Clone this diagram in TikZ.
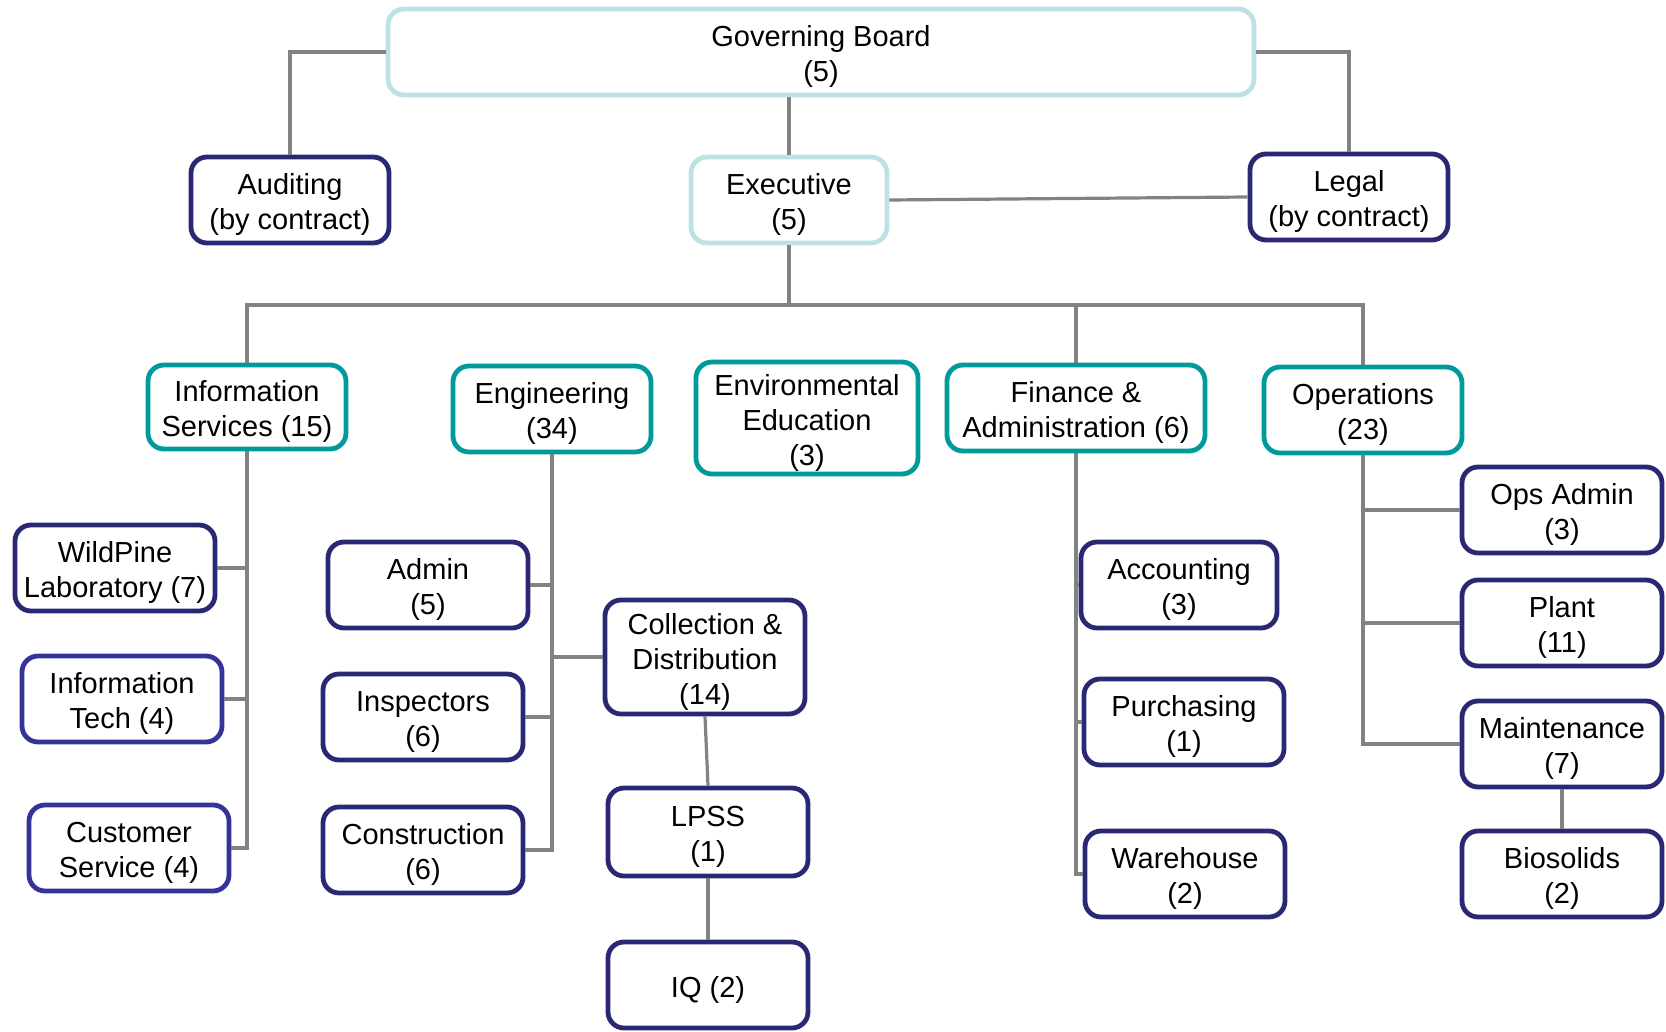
\documentclass[tikz,border=0pt]{standalone}
\usepackage{fontspec}
\setmainfont{Liberation Sans}
\definecolor{lightcy}{HTML}{BCE2E6}
\definecolor{tealc}{HTML}{009A9A}
\definecolor{navyc}{HTML}{2A2872}
\definecolor{bluec}{HTML}{33339A}
\definecolor{connc}{HTML}{828282}
\newcommand{\bxtext}[1]{\raisebox{-2.6pt}[\height][\depth]{\begin{tabular}{@{}c@{}}#1\end{tabular}}}
\tikzset{
  box/.style={draw, rounded corners=8pt, line width=2.4pt, fill=white,
    font=\fontsize{14.5pt}{17.5pt}\selectfont, inner sep=0pt, text=black},
  topbox/.style={box, draw=lightcy},
  divbox/.style={box, draw=tealc},
  unitbox/.style={box, draw=navyc},
  unitbox2/.style={box, draw=bluec},
  conn/.style={draw=connc, line width=1.6pt},
}
\begin{document}
\begin{tikzpicture}[x=0.5pt, y=-0.5pt]
\useasboundingbox (0,0) rectangle (1666,1032);
\coordinate (busy) at (0,305);
% nodes
\node[topbox, minimum width=433pt, minimum height=43pt] (gb) at (821,52) {\bxtext{Governing Board\\(5)}};
\node[unitbox, minimum width=99pt, minimum height=43pt] (aud) at (290,200) {\bxtext{Auditing\\(by contract)}};
\node[topbox, minimum width=98pt, minimum height=43pt] (exec) at (789,200) {\bxtext{Executive\\(5)}};
\node[unitbox, minimum width=99pt, minimum height=43pt] (legal) at (1349,197) {\bxtext{Legal\\(by contract)}};

\node[divbox, minimum width=99pt, minimum height=42pt] (is) at (247,407) {\bxtext{Information\\Services (15)}};
\node[divbox, minimum width=99pt, minimum height=43pt] (eng) at (552,409) {\bxtext{Engineering\\(34)}};
\node[divbox, minimum width=111pt, minimum height=56pt] (env) at (807,418) {\bxtext{Environmental\\Education\\(3)}};
\node[divbox, minimum width=129pt, minimum height=43pt] (fa) at (1076,408) {\bxtext{Finance \&\\Administration (6)}};
\node[divbox, minimum width=99pt, minimum height=43pt] (ops) at (1363,410) {\bxtext{Operations\\(23)}};

\node[unitbox, minimum width=100pt, minimum height=43pt] (wild) at (115,568) {\bxtext{WildPine\\Laboratory (7)}};
\node[unitbox2, minimum width=100pt, minimum height=43pt] (it) at (122,699) {\bxtext{Information\\Tech (4)}};
\node[unitbox2, minimum width=100pt, minimum height=43pt] (cs) at (129,848) {\bxtext{Customer\\Service (4)}};

\node[unitbox, minimum width=100pt, minimum height=43pt] (adm) at (428,585) {\bxtext{Admin\\(5)}};
\node[unitbox, minimum width=100pt, minimum height=43pt] (insp) at (423,717) {\bxtext{Inspectors\\(6)}};
\node[unitbox, minimum width=100pt, minimum height=43pt] (cons) at (423,850) {\bxtext{Construction\\(6)}};
\node[unitbox, minimum width=100pt, minimum height=57pt] (cd) at (705,657) {\bxtext{Collection \&\\Distribution\\(14)}};
\node[unitbox, minimum width=100pt, minimum height=44pt] (lpss) at (708,832) {\bxtext{LPSS\\(1)}};
\node[unitbox, minimum width=100pt, minimum height=43pt] (iq) at (708,985) {\bxtext{IQ (2)}};

\node[unitbox, minimum width=98pt, minimum height=43pt] (acc) at (1179,585) {\bxtext{Accounting\\(3)}};
\node[unitbox, minimum width=100pt, minimum height=43pt] (purch) at (1184,722) {\bxtext{Purchasing\\(1)}};
\node[unitbox, minimum width=100pt, minimum height=43pt] (ware) at (1185,874) {\bxtext{Warehouse\\(2)}};

\node[unitbox, minimum width=100pt, minimum height=43pt] (opsadm) at (1562,510) {\bxtext{Ops Admin\\(3)}};
\node[unitbox, minimum width=100pt, minimum height=43pt] (plant) at (1562,623) {\bxtext{Plant\\(11)}};
\node[unitbox, minimum width=100pt, minimum height=43pt] (maint) at (1562,744) {\bxtext{Maintenance\\(7)}};
\node[unitbox, minimum width=100pt, minimum height=43pt] (bio) at (1562,874) {\bxtext{Biosolids\\(2)}};

% connectors
\draw[conn] (gb.west) -| (aud.north);
\draw[conn] (gb.east) -| (legal.north);
\draw[conn] (exec.north) -- (exec.north |- gb.south);
\draw[conn] (exec.east) -- (legal.west);
\draw[conn] (exec.south) -- (exec.south |- busy);
\draw[conn] (is.north) -- (is.north |- busy) -| (ops.north);
\draw[conn] (fa.north) -- (fa.north |- busy);

\draw[conn] (is.south) |- (wild.east);
\draw[conn] (is.south) |- (it.east);
\draw[conn] (is.south) |- (cs.east);

\draw[conn] (eng.south) |- (adm.east);
\draw[conn] (eng.south) |- (insp.east);
\draw[conn] (eng.south) |- (cons.east);
\draw[conn] (eng.south) |- (cd.west);
\draw[conn] (cd.south) -- (lpss.north);
\draw[conn] (lpss.south) -- (iq.north);

\draw[conn] (fa.south) |- (acc.west);
\draw[conn] (fa.south) |- (purch.west);
\draw[conn] (fa.south) |- (ware.west);

\draw[conn] (ops.south) |- (opsadm.west);
\draw[conn] (ops.south) |- (plant.west);
\draw[conn] (ops.south) |- (maint.west);
\draw[conn] (maint.south) -- (bio.north);
\end{tikzpicture}
\end{document}
